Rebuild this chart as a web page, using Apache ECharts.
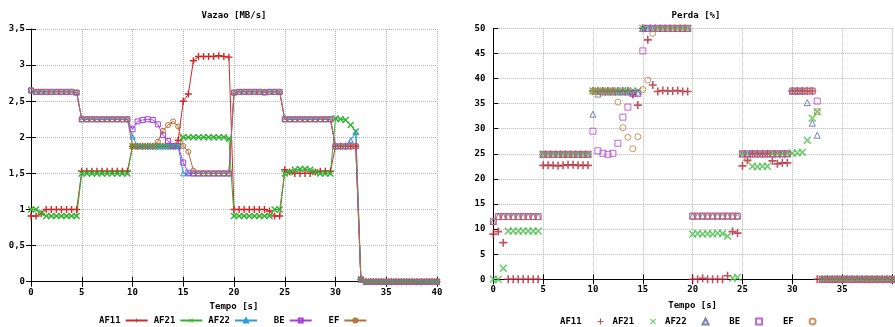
<!DOCTYPE html>
<html>
<head>
<meta charset="utf-8">
<title>Vazao / Perda</title>
<script src="https://cdn.jsdelivr.net/npm/echarts@6.0.0/dist/echarts.min.js"></script>
<style>
  html, body { margin: 0; padding: 0; background: #fff; }
  #main { width: 895px; height: 327px; }
</style>
</head>
<body>
<div id="main"></div>
<script>
// tempo [s], amostras a cada 0,5 s
var tempo = [
  0, 0.5, 1, 1.5, 2, 2.5, 3, 3.5, 4, 4.5,
  5, 5.5, 6, 6.5, 7, 7.5, 8, 8.5, 9, 9.5,
  10, 10.5, 11, 11.5, 12, 12.5, 13, 13.5, 14, 14.5,
  15, 15.5, 16, 16.5, 17, 17.5, 18, 18.5, 19, 19.5,
  20, 20.5, 21, 21.5, 22, 22.5, 23, 23.5, 24, 24.5,
  25, 25.5, 26, 26.5, 27, 27.5, 28, 28.5, 29, 29.5,
  30, 30.5, 31, 31.5, 32, 32.5, 33, 33.5, 34, 34.5,
  35, 35.5, 36, 36.5, 37, 37.5, 38, 38.5, 39, 39.5,
  40
];

// Vazao [MB/s]
var vazaoAF11 = [
  0.91, 0.91, 0.94, 1.0, 1.0, 1.0, 1.0, 1.0, 1.0, 1.0,
  1.53, 1.53, 1.53, 1.53, 1.53, 1.53, 1.53, 1.53, 1.53, 1.53,
  1.875, 1.875, 1.875, 1.875, 1.875, 1.875, 1.875, 1.875, 1.875, 1.96,
  2.5, 2.6, 3.06, 3.12, 3.12, 3.12, 3.12, 3.13, 3.12, 3.11,
  1.0, 1.0, 1.0, 1.0, 1.0, 1.0, 1.0, 0.98, 0.91, 0.91,
  1.55, 1.52, 1.5, 1.5, 1.5, 1.5, 1.52, 1.53, 1.53, 1.53,
  1.875, 1.875, 1.875, 1.875, 1.875, 0.03, 0, 0, 0, 0,
  0, 0, 0, 0, 0, 0, 0, 0, 0, 0,
  0
];
var vazaoAF21 = [
  1.0, 1.0, 0.95, 0.91, 0.91, 0.91, 0.91, 0.91, 0.91, 0.91,
  1.5, 1.5, 1.5, 1.5, 1.5, 1.5, 1.5, 1.5, 1.5, 1.5,
  1.875, 1.875, 1.875, 1.875, 1.875, 1.875, 1.875, 1.875, 1.875, 1.875,
  2.0, 2.0, 2.0, 2.0, 2.0, 2.0, 2.0, 2.0, 2.0, 1.98,
  0.91, 0.91, 0.91, 0.91, 0.91, 0.91, 0.91, 0.91, 1.0, 1.0,
  1.5, 1.52, 1.55, 1.56, 1.56, 1.55, 1.52, 1.5, 1.5, 1.5,
  2.26, 2.25, 2.24, 2.17, 2.08, 0.03, 0, 0, 0, 0,
  0, 0, 0, 0, 0, 0, 0, 0, 0, 0,
  0
];
var vazaoAF22 = [
  2.65, 2.63, 2.63, 2.63, 2.63, 2.63, 2.63, 2.63, 2.63, 2.62,
  2.25, 2.25, 2.25, 2.25, 2.25, 2.25, 2.25, 2.25, 2.25, 2.25,
  2.01, 1.875, 1.875, 1.875, 1.875, 1.875, 1.875, 1.875, 1.875, 1.875,
  1.5, 1.5, 1.5, 1.5, 1.5, 1.5, 1.5, 1.5, 1.5, 1.5,
  2.62, 2.63, 2.63, 2.63, 2.63, 2.63, 2.63, 2.63, 2.63, 2.63,
  2.25, 2.25, 2.25, 2.25, 2.25, 2.25, 2.25, 2.25, 2.25, 2.25,
  1.875, 1.875, 1.875, 1.96, 2.07, 0.03, 0, 0, 0, 0,
  0, 0, 0, 0, 0, 0, 0, 0, 0, 0,
  0
];
var vazaoBE = [
  2.65, 2.63, 2.63, 2.63, 2.63, 2.63, 2.63, 2.63, 2.63, 2.62,
  2.25, 2.25, 2.25, 2.25, 2.25, 2.25, 2.25, 2.25, 2.25, 2.25,
  2.11, 2.22, 2.24, 2.25, 2.24, 2.18, 2.03, 1.95, 1.88, 1.88,
  1.65, 1.51, 1.5, 1.5, 1.5, 1.5, 1.5, 1.5, 1.5, 1.5,
  2.62, 2.63, 2.63, 2.63, 2.63, 2.63, 2.62, 2.63, 2.63, 2.63,
  2.25, 2.25, 2.25, 2.25, 2.25, 2.25, 2.25, 2.25, 2.25, 2.25,
  1.875, 1.875, 1.875, 1.875, 1.875, 0.03, 0, 0, 0, 0,
  0, 0, 0, 0, 0, 0, 0, 0, 0, 0,
  0
];
var vazaoEF = [
  2.65, 2.63, 2.63, 2.63, 2.63, 2.63, 2.63, 2.63, 2.63, 2.62,
  2.25, 2.25, 2.25, 2.25, 2.25, 2.25, 2.25, 2.25, 2.25, 2.25,
  1.875, 1.875, 1.875, 1.875, 1.875, 1.94, 2.09, 2.17, 2.22, 2.15,
  1.88, 1.80, 1.54, 1.5, 1.5, 1.5, 1.5, 1.5, 1.5, 1.5,
  2.62, 2.63, 2.63, 2.63, 2.63, 2.63, 2.63, 2.63, 2.63, 2.63,
  2.25, 2.25, 2.25, 2.25, 2.25, 2.25, 2.25, 2.25, 2.25, 2.25,
  1.875, 1.875, 1.875, 1.875, 1.875, 0.03, 0, 0, 0, 0,
  0, 0, 0, 0, 0, 0, 0, 0, 0, 0,
  0
];

// Perda [%]
var perdaAF11 = [
  9.0, 9.5, 7.3, 0, 0, 0, 0, 0, 0, 0,
  22.7, 22.7, 22.7, 22.6, 22.7, 22.8, 22.8, 22.7, 22.7, 22.7,
  37.5, 37.5, 37.5, 37.5, 37.5, 37.5, 37.5, 37.5, 36.8, 34.7,
  50, 47.7, 38.7, 37.4, 37.6, 37.5, 37.5, 37.6, 37.4, 37.4,
  0, 0, 0.2, 0, 0, 0, 0, 0.7, 9.5, 9.2,
  22.6, 23.7, 25, 25, 25, 25, 23.6, 23.0, 23.2, 23.2,
  37.5, 37.5, 37.5, 37.5, 37.5, 0, 0, 0, 0, 0,
  0, 0, 0, 0, 0, 0, 0, 0, 0, 0,
  0
];
var perdaAF21 = [
  0, 0, 2.2, 9.6, 9.6, 9.6, 9.6, 9.6, 9.6, 9.6,
  24.9, 24.9, 24.9, 24.9, 24.9, 24.9, 24.9, 24.9, 24.9, 24.9,
  37.5, 37.5, 37.5, 37.5, 37.5, 37.5, 37.5, 37.5, 37.5, 37.5,
  50, 50, 50, 50, 50, 50, 50, 50, 50, 50,
  9.0, 9.1, 9.0, 9.1, 9.0, 9.2, 9.1, 8.6, 0.2, 0.4,
  25, 25, 22.5, 22.4, 22.5, 22.5, 25, 25, 25, 25,
  25.1, 25.2, 25.3, 27.7, 32.1, 33.4, 0, 0, 0, 0,
  0, 0, 0, 0, 0, 0, 0, 0, 0, 0,
  0
];
var perdaAF22 = [
  11.5, 12.5, 12.5, 12.5, 12.5, 12.5, 12.5, 12.5, 12.5, 12.5,
  24.9, 24.9, 24.9, 24.9, 24.9, 24.9, 24.9, 24.9, 24.9, 24.9,
  32.9, 36.9, 37.3, 37.3, 37.3, 37.3, 37.3, 37.3, 37.3, 37.3,
  50, 50, 50, 50, 50, 50, 50, 50, 50, 50,
  12.6, 12.6, 12.6, 12.6, 12.6, 12.6, 12.6, 12.6, 12.6, 12.6,
  25, 25, 25, 25, 25, 25, 25, 25, 25, 25,
  37.5, 37.5, 37.5, 35.2, 31.1, 28.7, 0, 0, 0, 0,
  0, 0, 0, 0, 0, 0, 0, 0, 0, 0,
  0
];
var perdaBE = [
  11.5, 12.5, 12.5, 12.5, 12.5, 12.5, 12.5, 12.5, 12.5, 12.5,
  24.9, 24.9, 24.9, 24.9, 24.9, 24.9, 24.9, 24.9, 24.9, 24.9,
  29.5, 25.6, 25.1, 24.9, 25.1, 27.1, 32.3, 34.3, 37.0, 37.0,
  45.5, 50, 50, 50, 50, 50, 50, 50, 50, 50,
  12.6, 12.6, 12.6, 12.6, 12.6, 12.6, 12.6, 12.6, 12.6, 12.6,
  25, 25, 25, 25, 25, 25, 25, 25, 25, 25,
  37.5, 37.5, 37.5, 37.5, 37.5, 35.5, 0, 0, 0, 0,
  0, 0, 0, 0, 0, 0, 0, 0, 0, 0,
  0
];
var perdaEF = [
  11.5, 12.5, 12.5, 12.5, 12.5, 12.5, 12.5, 12.5, 12.5, 12.5,
  24.9, 24.9, 24.9, 24.9, 24.9, 24.9, 24.9, 24.9, 24.9, 24.9,
  37.4, 37.4, 37.4, 37.4, 37.4, 35.3, 30.2, 28.3, 26.0, 28.4,
  37.8, 39.7, 49.0, 50, 50, 50, 50, 50, 50, 50,
  12.6, 12.6, 12.6, 12.6, 12.6, 12.6, 12.6, 12.6, 12.6, 12.6,
  25, 23.9, 25, 25, 25, 25, 25, 25, 25, 25,
  37.5, 37.5, 37.5, 37.5, 37.5, 33.4, 0, 0, 0, 0,
  0, 0, 0, 0, 0, 0, 0, 0, 0, 0,
  0
];

var nomes = ['AF11', 'AF21', 'AF22', 'BE', 'EF'];
var vazao = [vazaoAF11, vazaoAF21, vazaoAF22, vazaoBE, vazaoEF];
var perda = [perdaAF11, perdaAF21, perdaAF22, perdaBE, perdaEF];
var coresVazao = ['#cc2a2a', '#33b033', '#2f9ad8', '#a83ee0', '#b86e36'];
var coresPerda = ['#b0283a', '#4cc04c', '#5866a8', '#b040cc', '#c07a3a'];

var FONTE = 'DejaVu Sans Mono';
var MAIS = 'path://M4,0h2v4h4v2h-4v4h-2v-4h-4v-2h4z';
var VEZES = 'path://M1.4,0L5,3.6L8.6,0L10,1.4L6.4,5L10,8.6L8.6,10L5,6.4L1.4,10L0,8.6L3.6,5L0,1.4Z';
var simbolos = [MAIS, VEZES, 'triangle', 'rect', 'circle'];
var vazado = [false, false, true, true, true];

function pares(vals) {
  return tempo.map(function (t, i) { return [t, vals[i]]; });
}
function estiloPonto(i, cor) {
  return vazado[i]
    ? { color: 'rgba(255,255,255,0)', borderColor: cor, borderWidth: 1 }
    : { color: cor, borderWidth: 0 };
}
function rotulo(name) {
  var n = name.split('#')[0];
  return ('    ' + n).slice(-4);
}
function rotuloPerda(name) {
  return rotulo(name) + '  ';
}

var texto = { fontFamily: FONTE, fontWeight: 'bold', fontSize: 9, color: '#000' };
var grade = { show: true, lineStyle: { color: '#b4b4b4', type: 'dotted', width: 1 } };
var eixo = { show: true, onZero: false, lineStyle: { color: '#000', width: 1 } };
var marca = { show: true, inside: true, length: 5, lineStyle: { color: '#000' } };

var series = [];
nomes.forEach(function (n, i) {
  series.push({
    name: n,
    type: 'line',
    xAxisIndex: 0,
    yAxisIndex: 0,
    data: pares(vazao[i]),
    symbol: simbolos[i],
    symbolSize: vazado[i] ? 5 : 7,
    showAllSymbol: true,
    lineStyle: { color: coresVazao[i], width: 1 },
    itemStyle: estiloPonto(i, coresVazao[i]),
    emphasis: { disabled: true }
  });
});
nomes.forEach(function (n, i) {
  series.push({
    name: n + '#2',
    type: 'scatter',
    xAxisIndex: 1,
    yAxisIndex: 1,
    data: pares(perda[i]),
    symbol: simbolos[i],
    symbolSize: vazado[i] ? 6 : 8,
    itemStyle: estiloPonto(i, coresPerda[i]),
    emphasis: { disabled: true }
  });
});

var chart = echarts.init(document.getElementById('main'));
chart.setOption({
  animation: false,
  backgroundColor: '#fff',
  graphic: [
    { type: 'text', x: 234, y: 16, style: { text: 'Vazao [MB/s]', align: 'center', verticalAlign: 'middle', font: 'bold 9px "DejaVu Sans Mono"', fill: '#000' } },
    { type: 'text', x: 696, y: 16, style: { text: 'Perda [%]', align: 'center', verticalAlign: 'middle', font: 'bold 9px "DejaVu Sans Mono"', fill: '#000' } }
  ],
  legend: [
    {
      data: nomes, left: 99, top: 316, itemWidth: 22, itemHeight: 5, itemGap: 5,
      padding: 0, align: 'right', selectedMode: false, formatter: rotulo, textStyle: texto
    },
    {
      data: nomes.map(function (n) { return n + '#2'; }), left: 560, top: 317,
      itemWidth: 6, itemHeight: 6, itemGap: 9,
      padding: 0, align: 'right', selectedMode: false, formatter: rotuloPerda, textStyle: texto
    }
  ],
  grid: [
    { left: 31, top: 29, width: 406, height: 252.7 },
    { left: 493.3, top: 28.3, width: 406, height: 251 }
  ],
  xAxis: [
    {
      type: 'value', gridIndex: 0, min: 0, max: 40, interval: 5,
      name: 'Tempo [s]', nameLocation: 'middle', nameGap: 20, nameTextStyle: texto,
      axisLine: eixo, axisTick: marca, splitLine: grade,
      axisLabel: Object.assign({ margin: 6 }, texto)
    },
    {
      type: 'value', gridIndex: 1, min: 0, max: 40, interval: 5,
      name: 'Tempo [s]', nameLocation: 'middle', nameGap: 22, nameTextStyle: texto,
      axisLine: eixo, axisTick: marca, splitLine: grade,
      axisLabel: Object.assign({ margin: 6, formatter: function (v) { return v === 40 ? '' : String(v); } }, texto)
    },
    {
      type: 'value', gridIndex: 0, position: 'top', min: 0, max: 40, interval: 5,
      axisLine: { show: false }, axisTick: marca, axisLabel: { show: false }, splitLine: { show: false }
    },
    {
      type: 'value', gridIndex: 1, position: 'top', min: 0, max: 40, interval: 5,
      axisLine: { show: false }, axisTick: marca, axisLabel: { show: false }, splitLine: { show: false }
    }
  ],
  yAxis: [
    {
      type: 'value', gridIndex: 0, min: 0, max: 3.5, interval: 0.5,
      axisLine: eixo, axisTick: marca, splitLine: grade,
      axisLabel: Object.assign({ margin: 6, formatter: function (v) { return String(v).replace('.', ','); } }, texto)
    },
    {
      type: 'value', gridIndex: 1, min: 0, max: 50, interval: 5,
      axisLine: eixo, axisTick: marca, splitLine: grade,
      axisLabel: Object.assign({ margin: 8 }, texto)
    },
    {
      type: 'value', gridIndex: 0, position: 'right', min: 0, max: 3.5, interval: 0.5,
      axisLine: { show: false }, axisTick: marca, axisLabel: { show: false }, splitLine: { show: false }
    }
  ],
  series: series
});
</script>
</body>
</html>
